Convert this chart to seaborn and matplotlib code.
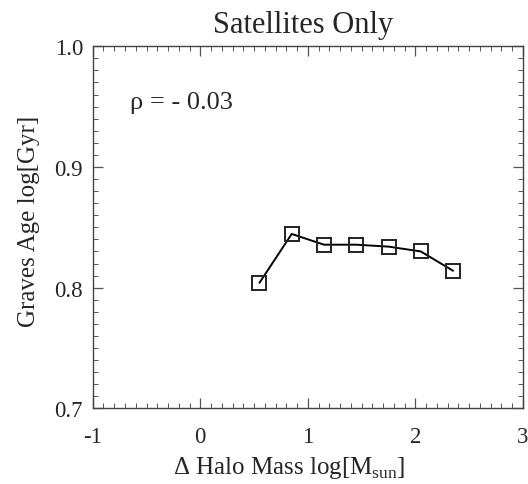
import matplotlib
matplotlib.use("Agg")
import matplotlib.pyplot as plt
from matplotlib.ticker import MultipleLocator, FuncFormatter, FormatStrFormatter
import seaborn as sns
import pandas as pd

# Binned halo-mass offset vs. mean stellar age for satellite galaxies
delta_halo_mass = [0.55, 0.85, 1.15, 1.45, 1.75, 2.05, 2.35]
graves_age = [0.804, 0.8445, 0.8356, 0.8356, 0.834, 0.830, 0.814]
rho_label = "ρ = - 0.03"

df = pd.DataFrame({"dm": delta_halo_mass, "age": graves_age})

sns.set_theme(style="ticks")
plt.rcParams["font.family"] = ["Liberation Serif", "DejaVu Serif"]
plt.rcParams["mathtext.fontset"] = "custom"
plt.rcParams["mathtext.rm"] = "Liberation Serif"

fig = plt.figure(figsize=(5.28, 4.85), dpi=100)
ax = fig.add_axes([0.1756, 0.156, 0.8149, 0.7465])

sns.lineplot(data=df, x="dm", y="age", ax=ax, color="black", linewidth=1.4,
             marker="s", markersize=10, markerfacecolor="none",
             markeredgecolor="#222222", markeredgewidth=1.4, estimator=None)

ax.set_xlim(-1, 3)
ax.set_ylim(0.7, 1.0)
ax.xaxis.set_major_locator(MultipleLocator(1))
ax.xaxis.set_minor_locator(MultipleLocator(0.1))
ax.yaxis.set_major_locator(MultipleLocator(0.1))
ax.yaxis.set_minor_locator(MultipleLocator(0.01))
ax.xaxis.set_major_formatter(FuncFormatter(lambda v, p: f"{v:.0f}"))
ax.yaxis.set_major_formatter(FormatStrFormatter("%.1f"))

ax.tick_params(which="both", direction="in", top=True, right=True,
               color="#555555", labelsize=16.5)
ax.tick_params(axis="x", which="major", pad=13)
ax.tick_params(axis="y", which="major", pad=7)
ax.tick_params(which="major", length=7, width=0.9)
ax.tick_params(which="minor", length=3.5, width=0.7)
for s in ax.spines.values():
    s.set_color("#444444")
    s.set_linewidth(1.0)

ax.set_xlabel(r"$\Delta$ Halo Mass log[M$_{\mathrm{sun}}$]", fontsize=18, labelpad=5)
ax.xaxis.label.set_x(0.456)
ax.set_ylabel("Graves Age log[Gyr]", fontsize=18, labelpad=10)
ax.yaxis.label.set_y(0.52)
ax.set_title("Satellites Only", fontsize=22, pad=10, x=0.49)

ax.text(0.087, 0.845, rho_label, transform=ax.transAxes, fontsize=19,
        ha="left", va="center")

fig.savefig("out.png", dpi=100, facecolor="white")
